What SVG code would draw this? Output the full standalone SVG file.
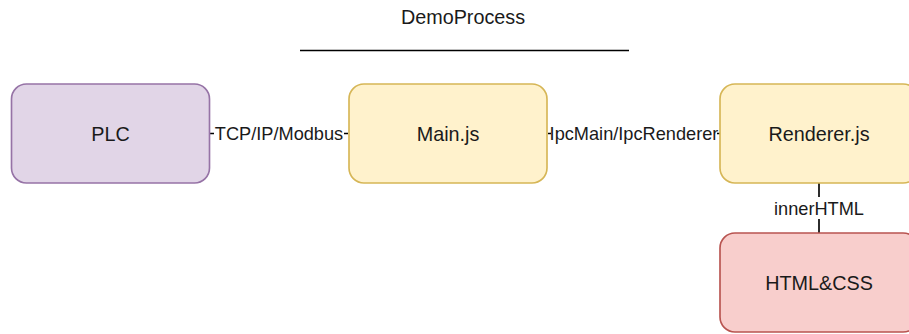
<svg xmlns="http://www.w3.org/2000/svg" width="909" height="334" viewBox="0 0 909 334">
  <style>
    .node { stroke-width: 1.65; }
    .purple { fill: #e1d5e7; stroke: #9673a6; }
    .yellow { fill: #fff2cc; stroke: #d6b656; }
    .red { fill: #f8cecc; stroke: #b85450; }
    .label { font-family: "Liberation Sans", Arial, sans-serif; font-size: 19.8px; fill: #1a1a1a; text-anchor: middle; }
    .elabel { font-family: "Liberation Sans", Arial, sans-serif; font-size: 18.2px; fill: #1a1a1a; text-anchor: middle; }
    .edge { stroke: #000; stroke-width: 1.65; fill: none; }
    .lblbg { fill: #fff; }
  </style>

  <!-- title with underline -->
  <g id="title">
    <text class="label" x="463" y="24">DemoProcess</text>
    <line x1="300" y1="50.5" x2="629" y2="50.5" stroke="#000" stroke-width="1.65"/>
  </g>

  <!-- connectors -->
  <g id="connectors">
    <line class="edge" x1="210" y1="133.5" x2="348" y2="133.5"/>
    <rect class="lblbg" x="214" y="122" width="130" height="23"/>
    <text class="elabel" x="279" y="140">TCP/IP/Modbus</text>

    <line class="edge" x1="548" y1="133.5" x2="720" y2="133.5"/>
    <rect class="lblbg" x="551" y="122" width="166" height="23"/>
    <text class="elabel" x="634" y="140">IpcMain/IpcRenderer</text>

    <line class="edge" x1="819" y1="183" x2="819" y2="233"/>
    <rect class="lblbg" x="770" y="197" width="98" height="22"/>
    <text class="elabel" x="819" y="214.5">innerHTML</text>
  </g>

  <g id="plc">
    <rect class="node purple" x="11.5" y="84" width="198" height="99" rx="15" ry="15"/>
    <text class="label" x="110.5" y="140.6">PLC</text>
  </g>

  <g id="main-js">
    <rect class="node yellow" x="349" y="84" width="198" height="99" rx="15" ry="15"/>
    <text class="label" x="448" y="140.6">Main.js</text>
  </g>

  <g id="renderer-js">
    <rect class="node yellow" x="720" y="84" width="198" height="99" rx="15" ry="15"/>
    <text class="label" x="819" y="140.6">Renderer.js</text>
  </g>

  <g id="html-css">
    <rect class="node red" x="720" y="233" width="198" height="99" rx="15" ry="15"/>
    <text class="label" x="819" y="289.6">HTML&amp;CSS</text>
  </g>
</svg>
